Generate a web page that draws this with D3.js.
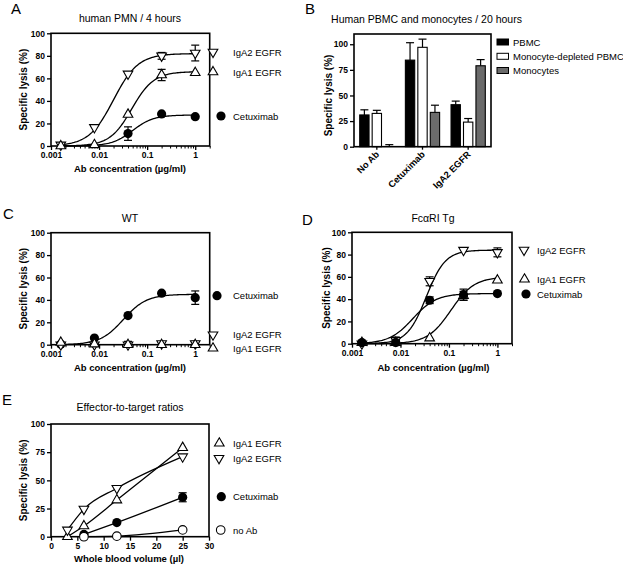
<!DOCTYPE html>
<html><head><meta charset="utf-8">
<script src="https://cdn.jsdelivr.net/npm/d3@7"></script>
<style>
body{margin:0;background:#fff}
svg{display:block}
text{font-family:"Liberation Sans",Arial,Helvetica,sans-serif}
</style>
</head><body>
<svg id="c" width="623" height="565"></svg>
<script>
// ---------------- DATA ----------------
const concentrations = [0.0016, 0.008, 0.04, 0.2, 1];
const logTicks = [0.001, 0.01, 0.1, 1];

// Panel A: human PMN / 4 hours
const aIgA2 = [1, 16.5, 64, 80, 82.5];
const aIgA2Err = [0, 0, 0, 3, 7];
const aIgA1 = [0, 1, 28, 63, 65];
const aIgA1Err = [0, 0, 0, 5, 0];
const aCetux = [null, null, 11, 28.5, 26];
const aCetuxErr = [0, 0, 6, 0, 0];
// fitted curves: [bottom, top, EC50, hill]
const aIgA2Fit = [0, 82, 0.02, 1.7];
const aIgA1Fit = [0, 66, 0.048, 1.9];
const aCetuxFit = [0, 27.5, 0.05, 2];

// Panel B: Human PBMC and monocytes / 20 hours
const bCategories = ["No Ab", "Cetuximab", "IgA2 EGFR"];
const bSeries = ["PBMC", "Monocyte-depleted PBMC", "Monocytes"];
const bPBMC = [31, 84.5, 41];
const bPBMCErr = [5, 17, 3.5];
const bDepleted = [32.5, 97, 24];
const bDepletedErr = [3, 8, 3.5];
const bMonocytes = [0, 33.5, 79];
const bMonocytesErr = [2, 7, 6];
const bTicks = [0, 25, 50, 75, 100];

// Panel C: WT
const cCetux = [0.5, 6, 26, 46, 42];
const cCetuxErr = [0, 0, 0, 0, 6];
const cIgA2 = [0, 0, 0, 1, 1];
const cIgA2Err = [0, 0, 3, 0, 2];
const cIgA1 = [2, 0.5, 0, 0, 0];
const cIgA1Err = [0, 0, 0, 0, 0];
const cCetuxFit = [0, 45, 0.032, 1.8];

// Panel D: FcaRI Tg
const dIgA2 = [0, 3, 56, 84, 82];
const dIgA2Err = [0, 3, 4, 0, 4];
const dIgA1 = [1, 1, 5, 43, 57];
const dIgA1Err = [0, 0, 0, 4, 0];
const dCetux = [1, 1, 39, 44, 45];
const dCetuxErr = [0, 2, 3, 5, 0];
const dIgA2Fit = [0, 84, 0.034, 2.2];
const dIgA1Fit = [0, 60, 0.11, 1.8];
const dCetuxFit = [0, 45, 0.018, 1.8];

// Panel E: Effector-to-target ratios
const eVolumes = [3.125, 6.25, 12.5, 25];
const eIgA1 = [0, 9.5, 32.5, 79];
const eIgA2 = [6, 24.5, 43, 71];
const eCetux = [null, 2, 12.5, 35];
const eCetuxErr = [0, 0, 0, 4];
const eNoAb = [null, 0, 0.5, 6];
const eXTicks = [0, 5, 10, 15, 20, 25, 30];
const eYTicks = [0, 25, 50, 75, 100];
const pctTicks = [0, 20, 40, 60, 80, 100];

// ---------------- DRAWING ----------------
const svg = d3.select("#c");
const AX_W = 1.6;

function symbol(g, type, x, y) {
  if (type === "dot") {
    g.append("circle").attr("cx", x).attr("cy", y).attr("r", 4.6).attr("fill", "#000");
  } else if (type === "circle") {
    g.append("circle").attr("cx", x).attr("cy", y).attr("r", 4.3)
      .attr("fill", "#fff").attr("stroke", "#000").attr("stroke-width", 1.1);
  } else {
    const p = d3.symbol(d3.symbolTriangle, 40)();
    g.append("path").attr("d", p)
      .attr("transform", `translate(${x},${y})` + (type === "down" ? " rotate(180)" : ""))
      .attr("fill", "#fff").attr("stroke", "#000").attr("stroke-width", 1.1);
  }
}

function errBar(g, x, y, v, e, upOnly) {
  if (!e) return;
  const y1 = y(v + e), y0 = upOnly ? y(v) : y(Math.max(0, v - e));
  g.append("line").attr("x1", x).attr("x2", x).attr("y1", y0).attr("y2", y1)
    .attr("stroke", "#000").attr("stroke-width", 1.2);
  g.append("line").attr("x1", x - 4).attr("x2", x + 4).attr("y1", y1).attr("y2", y1)
    .attr("stroke", "#000").attr("stroke-width", 1.2);
  if (!upOnly) g.append("line").attr("x1", x - 4).attr("x2", x + 4).attr("y1", y0).attr("y2", y0)
    .attr("stroke", "#000").attr("stroke-width", 1.2);
}

function styleAxis(ax) {
  ax.select(".domain").remove();
  ax.selectAll(".tick line").attr("stroke", "#000").attr("stroke-width", 1.3);
  ax.selectAll(".tick text").attr("font-size", "8.5px").attr("font-weight", "bold")
    .attr("font-family", '"Liberation Sans",Arial,sans-serif').attr("fill", "#000");
}

function frame(g, x0, x1, yT, yB) {
  g.append("rect").attr("x", x0).attr("y", yT).attr("width", x1 - x0).attr("height", yB - yT)
    .attr("fill", "none").attr("stroke", "#000").attr("stroke-width", AX_W);
}

function label(g, txt, x, y, opts = {}) {
  const t = g.append("text").attr("x", x).attr("y", y).text(txt)
    .attr("font-size", opts.size || "9.5px").attr("text-anchor", opts.anchor || "start")
    .attr("fill", "#000");
  if (opts.bold) t.attr("font-weight", "bold");
  if (opts.rotate) t.attr("transform", `rotate(${opts.rotate},${x},${y})`);
  return t;
}

function yLabel(g, x, yc) {
  label(g, "Specific lysis (%)", x, yc, { anchor: "middle", bold: true, rotate: -90, size: "10px" });
}

function hill(p, c) { return p[0] + (p[1] - p[0]) / (1 + Math.pow(p[2] / c, p[3])); }

function logPanel(cfg) {
  const g = svg.append("g");
  const x = d3.scaleLog().domain([0.001, 2]).range([cfg.x0, cfg.x1]);
  const y = d3.scaleLinear().domain([0, 100]).range([cfg.yB, cfg.yT]);
  const yax = g.append("g").attr("transform", `translate(${cfg.x0},0)`)
    .call(d3.axisLeft(y).tickValues(pctTicks).tickSize(4).tickPadding(2));
  styleAxis(yax);
  const minor = [];
  [0.001, 0.01, 0.1, 1].forEach(d => { for (let k = 2; k <= 9; k++) if (d * k <= 2) minor.push(d * k); });
  const xmin = g.append("g").attr("transform", `translate(0,${cfg.yB})`)
    .call(d3.axisBottom(x).tickValues(minor).tickSize(2.5).tickFormat(""));
  styleAxis(xmin);
  xmin.selectAll(".tick line").attr("stroke-width", 1);
  const xax = g.append("g").attr("transform", `translate(0,${cfg.yB})`)
    .call(d3.axisBottom(x).tickValues(logTicks).tickSize(4).tickPadding(2).tickFormat(d => String(d)));
  styleAxis(xax);
  frame(g, cfg.x0, cfg.x1, cfg.yT, cfg.yB);
  const grid = d3.range(0, 101).map(i => Math.pow(10, Math.log10(0.0016) + i * (Math.log10(1) - Math.log10(0.0016)) / 100));
  const line = d3.line().x(d => x(d[0])).y(d => y(d[1])).curve(d3.curveLinear);
  cfg.series.forEach(s => {
    if (!s.fit) return;
    g.append("path").attr("d", line(grid.map(c => [c, hill(s.fit, c)])))
      .attr("fill", "none").attr("stroke", "#000").attr("stroke-width", 1.3);
  });
  cfg.series.forEach(s => {
    s.vals.forEach((v, i) => { if (v != null) errBar(g, x(concentrations[i]), y, v, s.err[i]); });
  });
  cfg.series.forEach(s => {
    s.vals.forEach((v, i) => { if (v != null) symbol(g, s.sym, x(concentrations[i]), y(v)); });
  });
  cfg.series.forEach(s => {
    symbol(g, s.sym, s.lx, s.ly);
    label(g, s.name, cfg.legendTextX, s.ly + 3.5, { size: "9.5px" });
  });
  label(g, cfg.title, cfg.titleX, cfg.titleY, { anchor: "middle", size: "10.5px" });
  label(g, "Ab concentration (\u00b5g/ml)", cfg.xlabX, cfg.xlabY, { anchor: "middle", bold: true });
  yLabel(g, cfg.ylabX, (cfg.yT + cfg.yB) / 2);
  label(g, cfg.letter, cfg.letterX, cfg.letterY, { size: "15px" });
}

// Panel A
logPanel({
  x0: 51, x1: 209.7, yT: 33.3, yB: 146,
  title: "human PMN / 4 hours", titleX: 130, titleY: 22,
  xlabX: 130, xlabY: 171.5, ylabX: 27, letter: "A", letterX: 11, letterY: 13.5,
  legendTextX: 233,
  series: [
    { name: "IgA2 EGFR", vals: aIgA2, err: aIgA2Err, fit: aIgA2Fit, sym: "down", lx: 213, ly: 52 },
    { name: "IgA1 EGFR", vals: aIgA1, err: aIgA1Err, fit: aIgA1Fit, sym: "up", lx: 213, ly: 72 },
    { name: "Cetuximab", vals: aCetux, err: aCetuxErr, fit: aCetuxFit, sym: "dot", lx: 221, ly: 116 }
  ]
});

// Panel C
logPanel({
  x0: 51, x1: 209.7, yT: 232.7, yB: 344.7,
  title: "WT", titleX: 130, titleY: 221.5,
  xlabX: 130, xlabY: 371, ylabX: 27, letter: "C", letterX: 3, letterY: 219,
  legendTextX: 233,
  series: [
    { name: "Cetuximab", vals: cCetux, err: cCetuxErr, fit: cCetuxFit, sym: "dot", lx: 217, ly: 295.7 },
    { name: "IgA2 EGFR", vals: cIgA2, err: cIgA2Err, fit: null, sym: "down", lx: 213, ly: 334.7 },
    { name: "IgA1 EGFR", vals: cIgA1, err: cIgA1Err, fit: null, sym: "up", lx: 213, ly: 348.3 }
  ]
});

// Panel D
logPanel({
  x0: 352, x1: 512, yT: 232.3, yB: 343.7,
  title: "Fc\u03b1RI Tg", titleX: 433, titleY: 221.5,
  xlabX: 433.5, xlabY: 371, ylabX: 329.5, letter: "D", letterX: 302, letterY: 225,
  legendTextX: 537,
  series: [
    { name: "IgA2 EGFR", vals: dIgA2, err: dIgA2Err, fit: dIgA2Fit, sym: "down", lx: 524, ly: 250 },
    { name: "IgA1 EGFR", vals: dIgA1, err: dIgA1Err, fit: dIgA1Fit, sym: "up", lx: 524.5, ly: 279.3 },
    { name: "Cetuximab", vals: dCetux, err: dCetuxErr, fit: dCetuxFit, sym: "dot", lx: 526, ly: 294 }
  ]
});

// Panel B
(function () {
  const g = svg.append("g");
  const X0 = 354, X1 = 491, YT = 34, YB = 146.7;
  const y = d3.scaleLinear().domain([0, 110]).range([YB, YT]);
  const x0 = d3.scaleBand().domain(bCategories).range([X0, X1]).paddingInner(0.25).paddingOuter(0.125);
  const x1 = d3.scaleBand().domain(bSeries).range([0, x0.bandwidth()]).paddingInner(0.25);
  const vals = [bPBMC, bDepleted, bMonocytes];
  const errs = [bPBMCErr, bDepletedErr, bMonocytesErr];
  const fills = ["#000", "#fff", "#6b6b6b"];
  const yax = g.append("g").attr("transform", `translate(${X0},0)`)
    .call(d3.axisLeft(y).tickValues(bTicks).tickSize(4).tickPadding(2));
  styleAxis(yax);
  const xax = g.append("g").attr("transform", `translate(0,${YB})`)
    .call(d3.axisBottom(x0).tickSize(3).tickFormat(""));
  styleAxis(xax);
  bSeries.forEach((s, si) => {
    bCategories.forEach((c, ci) => {
      const bx = x0(c) + x1(s), v = vals[si][ci];
      errBar(g, bx + x1.bandwidth() / 2, y, v, errs[si][ci], true);
      g.append("rect").attr("x", bx).attr("y", y(v)).attr("width", x1.bandwidth())
        .attr("height", YB - y(v)).attr("fill", fills[si]).attr("stroke", "#000").attr("stroke-width", 1.1);
    });
  });
  frame(g, X0, X1, YT, YB);
  bCategories.forEach(c => {
    const cx = x0(c) + x0.bandwidth() / 2 + 3, cy = 155;
    label(g, c, cx, cy, { anchor: "end", bold: true, rotate: -45, size: "9.3px" });
  });
  bSeries.forEach((s, si) => {
    const ly = [42, 56.3, 70.5][si];
    g.append("rect").attr("x", 497).attr("y", ly - 3).attr("width", 11.5).attr("height", 6)
      .attr("fill", fills[si]).attr("stroke", "#000").attr("stroke-width", 1);
    label(g, s, 513, ly + 3.5, { size: "9.5px" });
  });
  label(g, "Human PBMC and monocytes / 20 hours", 426.5, 22.5, { anchor: "middle", size: "10.5px" });
  yLabel(g, 332, (y(0) + y(100)) / 2);
  label(g, "B", 305, 13.5, { size: "15px" });
})();

// Panel E
(function () {
  const g = svg.append("g");
  const X0 = 51, X1 = 209, YT = 424, YB = 536.7;
  const x = d3.scaleLinear().domain([0, 30]).range([X0, X1]);
  const y = d3.scaleLinear().domain([0, 100]).range([YB, YT]);
  const yax = g.append("g").attr("transform", `translate(${X0},0)`)
    .call(d3.axisLeft(y).tickValues(eYTicks).tickSize(4).tickPadding(2));
  styleAxis(yax);
  const xax = g.append("g").attr("transform", `translate(0,${YB})`)
    .call(d3.axisBottom(x).tickValues(eXTicks).tickSize(4).tickPadding(2));
  styleAxis(xax);
  frame(g, X0, X1, YT, YB);
  const series = [
    { name: "IgA1 EGFR", vals: eIgA1, err: [0, 0, 0, 0], sym: "up", lx: 219.3, ly: 443.3 },
    { name: "IgA2 EGFR", vals: eIgA2, err: [0, 0, 0, 0], sym: "down", lx: 219, ly: 458.3 },
    { name: "Cetuximab", vals: eCetux, err: eCetuxErr, sym: "dot", lx: 221.3, ly: 496.7 },
    { name: "no Ab", vals: eNoAb, err: [0, 0, 0, 0], sym: "circle", lx: 220.7, ly: 530 }
  ];
  const line = d3.line().defined(d => d[1] != null).x(d => x(d[0])).y(d => y(d[1])).curve(d3.curveMonotoneX);
  series.forEach(s => {
    g.append("path").attr("d", line(eVolumes.map((v, i) => [v, s.vals[i]])))
      .attr("fill", "none").attr("stroke", "#000").attr("stroke-width", 1.3);
  });
  series.forEach(s => s.vals.forEach((v, i) => { if (v != null) errBar(g, x(eVolumes[i]), y, v, s.err[i]); }));
  series.forEach(s => s.vals.forEach((v, i) => { if (v != null) symbol(g, s.sym, x(eVolumes[i]), y(v)); }));
  series.forEach(s => {
    symbol(g, s.sym, s.lx, s.ly);
    label(g, s.name, 233, s.ly + 3.5, { size: "9.5px" });
  });
  label(g, "Effector-to-target ratios", 130, 411, { anchor: "middle", size: "10.5px" });
  label(g, "Whole blood volume (\u00b5l)", 129, 562, { anchor: "middle", bold: true });
  yLabel(g, 27, (YT + YB) / 2);
  label(g, "E", 2, 405, { size: "15px" });
})();
</script>
</body></html>
